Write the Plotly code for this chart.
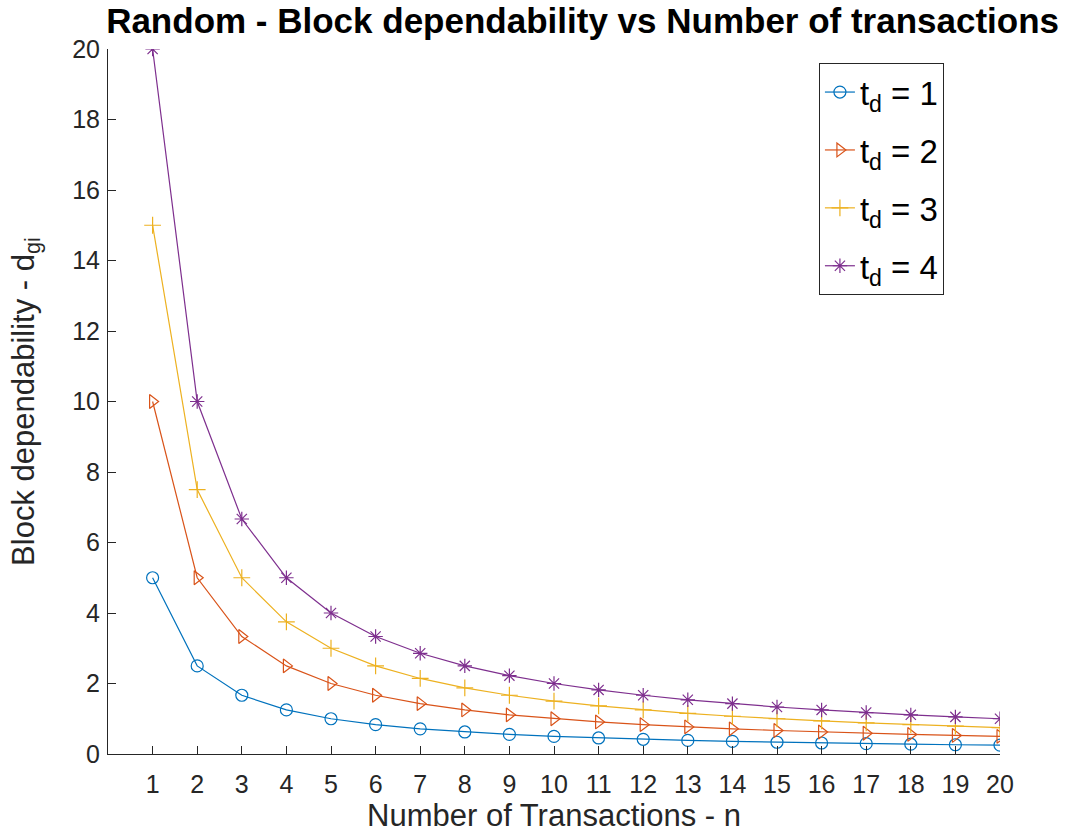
import plotly.graph_objects as go

n = list(range(1, 21))
td1 = [5.0, 2.5, 1.667, 1.25, 1.0, 0.833, 0.714, 0.625, 0.556, 0.5,
       0.455, 0.417, 0.385, 0.357, 0.333, 0.3125, 0.294, 0.278, 0.263, 0.25]
td2 = [10.0, 5.0, 3.333, 2.5, 2.0, 1.667, 1.429, 1.25, 1.111, 1.0,
       0.909, 0.833, 0.769, 0.714, 0.667, 0.625, 0.588, 0.556, 0.526, 0.5]
td3 = [15.0, 7.5, 5.0, 3.75, 3.0, 2.5, 2.143, 1.875, 1.667, 1.5,
       1.364, 1.25, 1.154, 1.071, 1.0, 0.9375, 0.882, 0.833, 0.789, 0.75]
td4 = [20.0, 10.0, 6.667, 5.0, 4.0, 3.333, 2.857, 2.5, 2.222, 2.0,
       1.818, 1.667, 1.538, 1.429, 1.333, 1.25, 1.176, 1.111, 1.053, 1.0]

series = [
    ("t<sub>d</sub> = 1", td1, "#0072BD", "circle-open"),
    ("t<sub>d</sub> = 2", td2, "#D95319", "triangle-right-open"),
    ("t<sub>d</sub> = 3", td3, "#EDB120", "cross-thin-open"),
    ("t<sub>d</sub> = 4", td4, "#7E2F8E", "asterisk-open"),
]

fig = go.Figure()
for i, (name, ys, color, sym) in enumerate(series):
    fig.add_trace(go.Scatter(
        x=n, y=ys, name=name, mode="lines+markers", legendgroup=f"g{i}",
        line=dict(color=color, width=1.2),
        marker=dict(symbol=sym, size=12, color=color, line=dict(color=color, width=1.2)),
    ))

font = "Liberation Sans, Arial, Helvetica, sans-serif"
fig.update_layout(
    width=1069, height=838,
    margin=dict(l=108, r=69, t=49, b=84),
    paper_bgcolor="white", plot_bgcolor="white",
    font=dict(family=font, color="#262626", size=24),
    title=dict(text="<b>Random - Block dependability vs Number of transactions</b>",
               x=0.545, xref="container", xanchor="center",
               y=0.975, yref="container", yanchor="middle",
               font=dict(size=35, color="black", family=font)),
    xaxis=dict(range=[0, 20], tickvals=n, ticktext=[str(v) for v in n],
               showgrid=False, zeroline=False, showline=True, linecolor="#262626",
               linewidth=1, ticks="inside", ticklen=8, tickcolor="#262626",
               ticklabelstandoff=8,
               title=dict(text="Number of Transactions - n", font=dict(size=31), standoff=6),
               tickfont=dict(size=25)),
    yaxis=dict(range=[0, 20], tickvals=list(range(0, 21, 2)),
               showgrid=False, zeroline=False, showline=True, linecolor="#262626",
               linewidth=1, ticks="inside", ticklen=8, tickcolor="#262626",
               ticklabelstandoff=2,
               title=dict(text="Block dependability - d<sub>gi</sub>", font=dict(size=31), standoff=28),
               tickfont=dict(size=25)),
    legend=dict(x=0.797, y=0.98, xanchor="left", yanchor="top",
                bordercolor="#262626", borderwidth=1, bgcolor="white",
                font=dict(size=33, color="black"), tracegroupgap=12),
    showlegend=True,
)

fig.write_html("out.html")
